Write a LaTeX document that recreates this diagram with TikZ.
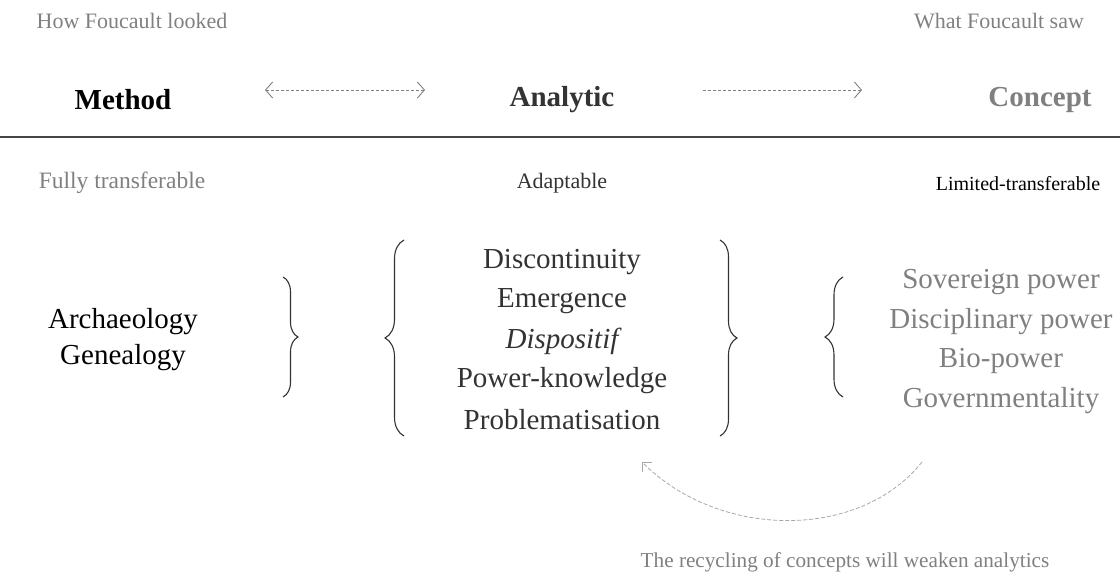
\documentclass[tikz,border=0pt]{standalone}
\usepackage{fontspec}
\setmainfont{Liberation Serif}
\usepackage{tikz}
\usetikzlibrary{arrows.meta, positioning, decorations.pathreplacing}

\definecolor{softgrey}{HTML}{808080}
\definecolor{darkgrey}{HTML}{333333}
\definecolor{palegrey}{HTML}{A8A8A8}

\begin{document}
\begin{tikzpicture}[x=1pt,y=-1pt,node distance=39.5pt,inner sep=0pt]
	\tikzset{
		toplabel/.style={font=\fontsize{22}{26}\selectfont, text=softgrey},
		headlabel/.style={font=\fontsize{29}{33}\selectfont\bfseries},
		sublabel/.style={font=\fontsize{#1}{26}\selectfont},
		sublabel/.default=22,
		item/.style={font=\fontsize{29}{33}\selectfont},
		curly/.style={decorate, decoration={brace, amplitude=#1}, line width=1.1pt},
		dotarrow/.style={dashed, dash pattern=on 3pt off 2pt, softgrey, line width=0.9pt, {Straight Barb[length=7pt,width=16pt]}-{Straight Barb[length=7pt,width=16pt]}}
	}
	\useasboundingbox (0,0) rectangle (1120,577);
	% top row
	\node[toplabel] (looked) at (132,21) {How Foucault looked};
	\node[toplabel] (saw) at (999,21) {What Foucault saw};
	\node[headlabel] (method) at (123,100) {Method};
	\node[headlabel, text=darkgrey] (analytic) at (562,100) {Analytic};
	\node[headlabel, text=softgrey] (concept) at (1040,100) {Concept};
	\coordinate (mL) at (265,90);
	\coordinate (mR) at (425,90);
	\coordinate (cL) at (703,90);
	\coordinate (cR) at (862,90);
	\draw[dotarrow] (mL) -- (mR);
	\draw[dotarrow, -{Straight Barb[length=7pt,width=16pt]}] (cL) -- (cR);
	\coordinate (ruleL) at (0,137);
	\coordinate (ruleR) at (1120,137);
	\draw[line width=1.6pt, darkgrey!90] (ruleL) -- (ruleR);
	% transferability
	\node[sublabel=23.5, text=softgrey] (fully) at (122,183) {Fully transferable};
	\node[sublabel, text=darkgrey] (adapt) at (562,183) {Adaptable};
	\node[sublabel=20, text=black] (limited) at (1018,184) {Limited-transferable};
	% methods
	\node[item] (arch) at (123,322) {Archaeology};
	\node[item] (gene) [below of=arch, node distance=36pt] {Genealogy};
	% analytics
	\node[item, text=darkgrey] (disc) at (562,262) {Discontinuity};
	\node[item, text=darkgrey] (emer) [below of=disc] {Emergence};
	\node[item, text=darkgrey] (disp) [below of=emer] {\itshape Dispositif};
	\node[item, text=darkgrey] (powk) [below of=disp] {Power-knowledge};
	\node[item, text=darkgrey] (prob) [below of=powk] {Problematisation};
	% concepts
	\node[item, text=softgrey] (sove) at (1001,282) {Sovereign power};
	\node[item, text=softgrey] (disci) [below of=sove] {Disciplinary power};
	\node[item, text=softgrey] (bio) [below of=disci] {Bio-power};
	\node[item, text=softgrey] (gove) [below of=bio] {Governmentality};
	% braces
	\coordinate (b1t) at (283,277);
	\coordinate (b1b) at (283,397);
	\coordinate (b2t) at (404,240);
	\coordinate (b2b) at (404,436);
	\coordinate (b3t) at (720,240);
	\coordinate (b3b) at (720,436);
	\coordinate (b4t) at (843,277);
	\coordinate (b4b) at (843,397);
	\draw[curly=15pt, darkgrey] (b1t) -- (b1b);
	\draw[curly=19pt, darkgrey] (b2b) -- (b2t);
	\draw[curly=17pt, darkgrey] (b3t) -- (b3b);
	\draw[curly=18pt, darkgrey] (b4b) -- (b4t);
	% recycling
	\coordinate (recycleFrom) at (922,462);
	\coordinate (recycleTo) at (642,462);
	\draw[palegrey, dashed, dash pattern=on 4pt off 2pt, line width=0.8pt, -{Straight Barb[length=7pt,width=14pt]}]
		(recycleFrom) .. controls (860,540) and (720,540) .. (recycleTo);
	\node[sublabel=21.2, text=softgrey] (recycling) at (845,562) {The recycling of concepts will weaken analytics};
\end{tikzpicture}
\end{document}
